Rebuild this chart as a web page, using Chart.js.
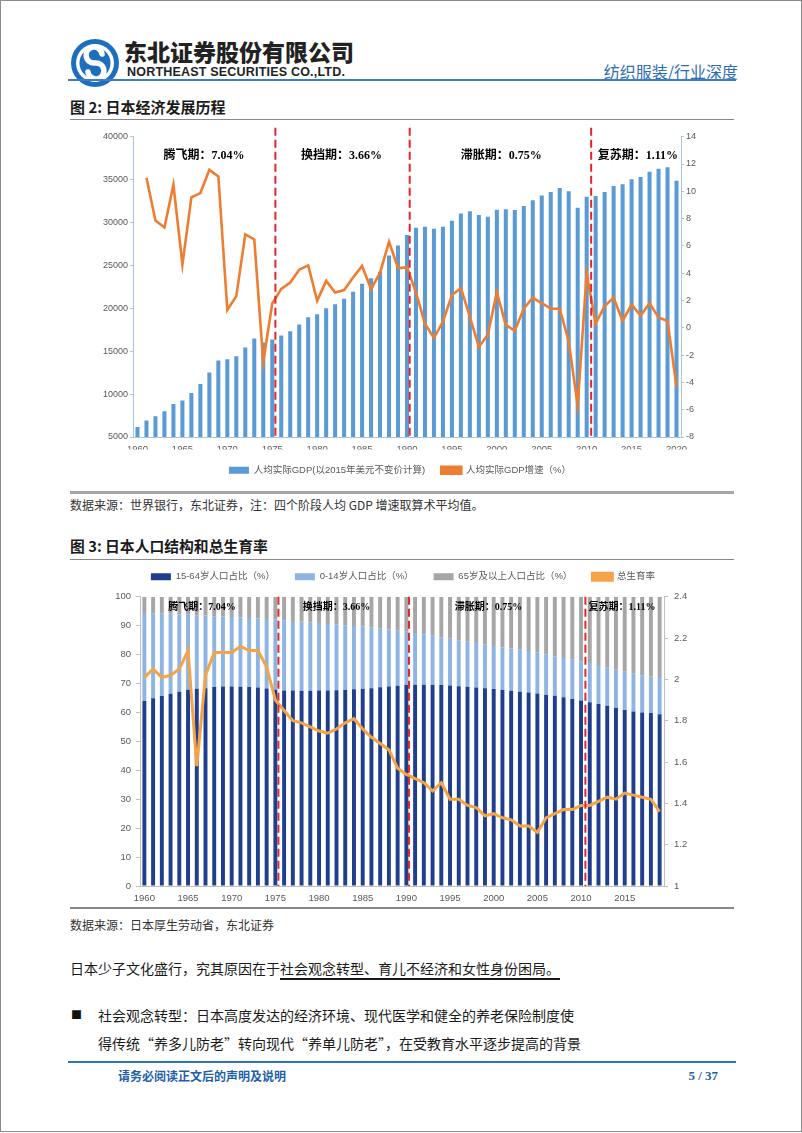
<!DOCTYPE html>
<html>
<head>
<meta charset="utf-8">
<script src="https://cdn.jsdelivr.net/npm/chart.js@4.4.0/dist/chart.umd.min.js"></script>
<style>
html,body{margin:0;padding:0;background:#fff;}
body{width:802px;height:1133px;position:relative;overflow:hidden;font-family:'Noto Sans CJK SC','Noto Sans',sans-serif;color:#1a1a1a;}
.abs{position:absolute;white-space:nowrap;line-height:1;}
.frame{position:absolute;left:0;top:0;width:800px;height:1130px;border:1px solid #8c8c8c;}
.rule{position:absolute;}
canvas{position:absolute;}
</style>
</head>
<body>
<div class="frame"></div>

<svg class="abs" style="left:70px;top:38px" width="50" height="50" viewBox="-25 -25 50 50">
  <circle cx="0" cy="0" r="24" fill="#1D6FBE"/>
  <circle cx="0" cy="0" r="19" fill="#fff"/>
  <circle cx="0" cy="0" r="15.5" fill="#1D6FBE"/>
  <path d="M 7 -9 A 8 8 0 1 0 0 0 A 8 8 0 1 1 -7 9" fill="none" stroke="#fff" stroke-width="5.5" stroke-linecap="round"/>
</svg>
<div class="abs" style="left:124px;top:40px;font-size:23px;font-weight:900;color:#222;">东北证券股份有限公司</div>
<div class="abs" style="left:127px;top:66px;font-size:12.5px;font-weight:bold;font-family:'Liberation Sans',sans-serif;color:#222;letter-spacing:0.2px;">NORTHEAST SECURITIES CO.,LTD.</div>
<div class="abs" style="right:64px;top:63px;font-size:16px;color:#2E6DB4;">纺织服装/行业深度</div>
<div class="rule" style="left:68px;top:79px;width:668px;height:2px;background:#3C7DC4;"></div>

<div class="abs" style="left:70px;top:99px;font-size:15px;font-weight:bold;">图 2: 日本经济发展历程</div>
<div class="rule" style="left:70px;top:119px;width:664px;height:1px;background:#888;"></div>

<canvas id="c1" width="660" height="360" style="left:70px;top:125px;"></canvas>

<div class="rule" style="left:70px;top:491px;width:664px;height:3px;background:#A6A6A6;"></div>
<div class="abs" style="left:70px;top:499px;font-size:12px;color:#333;">数据来源：世界银行，东北证券，注：四个阶段人均 GDP 增速取算术平均值。</div>

<div class="abs" style="left:70px;top:539px;font-size:14.8px;font-weight:bold;">图 3: 日本人口结构和总生育率</div>
<div class="rule" style="left:70px;top:559px;width:664px;height:1px;background:#888;"></div>

<canvas id="c2" width="666" height="354" style="left:70px;top:552px;"></canvas>

<div class="rule" style="left:70px;top:907px;width:664px;height:1.5px;background:#888;"></div>
<div class="abs" style="left:70px;top:919px;font-size:12px;color:#333;">数据来源：日本厚生劳动省，东北证券</div>

<div class="abs" style="left:70px;top:961px;font-size:14px;color:#1a1a1a;">日本少子文化盛行，究其原因在于<span style="text-decoration:underline;text-underline-offset:4px;text-decoration-thickness:1.5px;">社会观念转型、育儿不经济和女性身份困局。</span></div>
<div class="abs" style="left:71px;top:1009px;font-size:11px;color:#111;">■</div>
<div class="abs" style="left:98px;top:1008px;font-size:14px;color:#1a1a1a;">社会观念转型：日本高度发达的经济环境、现代医学和健全的养老保险制度使</div>
<div class="abs" style="left:98px;top:1036px;font-size:14px;color:#1a1a1a;">得传统“养多儿防老”转向现代“养单儿防老”，在受教育水平逐步提高的背景</div>

<div class="rule" style="left:68px;top:1061px;width:668px;height:1.5px;background:#2E75B6;"></div>
<div class="abs" style="left:118px;top:1070px;font-size:12px;font-weight:bold;color:#1F5FA8;">请务必阅读正文后的声明及说明</div>
<div class="abs" style="right:84px;top:1069px;font-size:13px;font-weight:bold;color:#1F5FA8;font-family:'Liberation Serif',serif;">5 / 37</div>

<script>
// ---------- Chart 1 data: Japan GDP ----------
const gdpYears = [1960,1961,1962,1963,1964,1965,1966,1967,1968,1969,1970,1971,1972,1973,1974,1975,1976,1977,1978,1979,1980,1981,1982,1983,1984,1985,1986,1987,1988,1989,1990,1991,1992,1993,1994,1995,1996,1997,1998,1999,2000,2001,2002,2003,2004,2005,2006,2007,2008,2009,2010,2011,2012,2013,2014,2015,2016,2017,2018,2019,2020];
const gdpPerCapita = [6170,6910,7410,8000,8850,9250,10130,11180,12510,13910,14070,14420,15430,16480,16010,16360,16830,17330,18110,18970,19320,20020,20480,21100,21920,22850,23510,24250,26160,27330,28530,29380,29500,29270,29500,30200,31060,31300,30870,30670,31480,31530,31450,31920,32580,33160,33550,34020,33630,31720,33000,33080,33550,34250,34450,35030,35300,35920,36270,36430,34870];
const gdpGrowth = [null,11.0,7.86,7.35,10.48,4.63,9.56,9.87,11.57,11.09,1.3,2.32,6.84,6.47,-2.5,1.78,2.85,3.32,4.26,4.58,1.98,3.44,2.59,2.76,3.68,4.53,2.83,4.04,6.3,4.38,4.43,2.6,0.3,-0.75,0.46,2.4,2.9,0.8,-1.4,-0.5,2.6,0.2,-0.2,1.4,2.2,1.8,1.4,1.4,-1.0,-5.7,4.0,0.3,1.6,2.2,0.5,1.7,0.9,1.8,0.75,0.5,-4.3];
const gdpLeftTicks = {min:5000, max:40000, step:5000};
const gdpRightTicks = {min:-8, max:14, step:2};

// ---------- Chart 2 data: population structure ----------
const popYears = [1960,1961,1962,1963,1964,1965,1966,1967,1968,1969,1970,1971,1972,1973,1974,1975,1976,1977,1978,1979,1980,1981,1982,1983,1984,1985,1986,1987,1988,1989,1990,1991,1992,1993,1994,1995,1996,1997,1998,1999,2000,2001,2002,2003,2004,2005,2006,2007,2008,2009,2010,2011,2012,2013,2014,2015,2016,2017,2018,2019];
const pop15to64 = [64.0,64.9,65.7,66.5,67.2,67.9,68.2,68.4,68.8,69.0,69.0,68.9,68.8,68.6,68.3,67.9,67.6,67.6,67.5,67.5,67.6,67.6,67.7,67.8,68.0,68.2,68.4,68.7,69.0,69.2,69.5,69.6,69.6,69.6,69.5,69.3,69.1,68.9,68.6,68.4,68.1,67.8,67.5,67.2,66.9,66.6,66.1,65.8,65.3,64.7,64.1,63.5,62.9,62.3,61.6,60.9,60.3,60.0,59.8,59.4];
const pop0to14 = [30.4,29.4,28.5,27.6,26.7,25.9,25.4,25.1,24.5,24.2,24.0,24.0,23.9,23.9,24.0,24.2,24.3,24.0,23.9,23.6,23.3,23.0,22.7,22.4,21.9,21.5,21.0,20.4,19.7,19.1,18.4,17.9,17.4,16.9,16.5,16.2,15.9,15.6,15.4,15.1,14.9,14.7,14.6,14.5,14.4,14.2,14.0,13.6,13.5,13.5,13.6,13.6,13.5,13.3,13.3,13.2,13.1,12.9,12.6,12.5];
const pop65plus = [5.6,5.7,5.8,5.9,6.1,6.2,6.4,6.5,6.7,6.8,7.0,7.1,7.3,7.5,7.7,7.9,8.1,8.4,8.6,8.9,9.1,9.4,9.6,9.8,10.1,10.3,10.6,10.9,11.3,11.7,12.1,12.5,13.0,13.5,14.0,14.5,15.0,15.5,16.0,16.5,17.0,17.5,17.9,18.3,18.7,19.2,19.9,20.6,21.2,21.8,22.3,22.9,23.6,24.4,25.1,25.9,26.6,27.1,27.6,28.1];
const fertilityRate = [2.01,2.05,2.01,2.02,2.05,2.14,1.58,2.02,2.13,2.13,2.13,2.16,2.14,2.14,2.06,1.90,1.85,1.80,1.79,1.77,1.75,1.74,1.76,1.79,1.81,1.76,1.72,1.69,1.66,1.57,1.54,1.52,1.50,1.46,1.50,1.42,1.42,1.39,1.38,1.34,1.35,1.33,1.32,1.29,1.29,1.26,1.33,1.35,1.37,1.37,1.39,1.39,1.41,1.43,1.42,1.45,1.44,1.43,1.42,1.36];
const popLeftTicks = {min:0, max:100, step:10};
const popRightTicks = {min:1, max:2.4, step:0.2};

// ---------- phase annotations ----------
const phaseBoundaries = [1975.35, 1990.3, 2010.5];
const phaseLabels = ['腾飞期：7.04%','换挡期：3.66%','滞胀期：0.75%','复苏期：1.11%'];
const phaseLabelAt1 = [1967.4, 1982.7, 2000.5, 2015.7];
const phaseLabelAt2 = [1966.6, 1982.0, 1999.4, 2014.7];

const numFont = "'Liberation Sans','Noto Sans CJK SC',sans-serif";
const lblFont = "'Liberation Sans','Noto Sans CJK SC',sans-serif";

function phasePlugin(id, labelAt, font, labelDy, extendTop){
  return {
    id: id,
    afterDatasetsDraw(chart){
      const {ctx, chartArea, scales} = chart;
      const x = scales.x;
      const first = Number(chart.data.labels[0]);
      ctx.save();
      ctx.strokeStyle = '#E3262B';
      ctx.lineWidth = 2;
      ctx.setLineDash([8,4]);
      phaseBoundaries.forEach(p => {
        const px = x.getPixelForValue(p - first);
        ctx.beginPath();
        ctx.moveTo(px, chartArea.top - extendTop);
        ctx.lineTo(px, chartArea.bottom);
        ctx.stroke();
      });
      ctx.setLineDash([]);
      ctx.fillStyle = '#000';
      ctx.font = font;
      ctx.textAlign = 'center';
      ctx.textBaseline = 'middle';
      phaseLabels.forEach((t, i) => {
        ctx.fillText(t, x.getPixelForValue(labelAt[i] - first), chartArea.top + labelDy);
      });
      ctx.restore();
    }
  };
}

const yearTick = function(v){ const y = Number(this.getLabelForValue(v)); return y % 5 === 0 ? String(y) : ''; };

// ---------- Chart 1 ----------
const ax1 = '#A9C4E4';
new Chart(document.getElementById('c1'), {
  data: {
    labels: gdpYears,
    datasets: [
      { type:'bar', label:'人均实际GDP(以2015年美元不变价计算)', data: gdpPerCapita, yAxisID:'y',
        backgroundColor:'#5B9BD5', borderWidth:0, barPercentage:0.45, categoryPercentage:1.0, order:1 },
      { type:'line', label:'人均实际GDP增速（%）', data: gdpGrowth, yAxisID:'y1',
        borderColor:'#ED7D31', backgroundColor:'#ED7D31', borderWidth:2.6, pointRadius:0, tension:0, order:0 }
    ]
  },
  options: {
    responsive:false, animation:false, devicePixelRatio:1,
    layout:{padding:{top:11.7, left:0, right:0, bottom:0}},
    plugins:{
      legend:{ position:'bottom',
        labels:{ boxWidth:20, boxHeight:7, padding:16, color:'#595959', font:{family:lblFont, size:9.5},
          sort:(a,b)=>a.datasetIndex-b.datasetIndex } },
      tooltip:{enabled:false}
    },
    scales:{
      x:{ type:'category', grid:{display:false, drawTicks:false}, border:{display:true, color:ax1},
          ticks:{ autoSkip:false, maxRotation:0, padding:6.5, color:'#595959', font:{family:numFont, size:9.5}, callback: yearTick },
          afterFit:(s)=>{ s.height = 12.5; } },
      y:{ position:'left', min:gdpLeftTicks.min, max:gdpLeftTicks.max,
          grid:{display:true, drawOnChartArea:false, drawTicks:true, tickLength:3, color:ax1}, border:{color:ax1},
          ticks:{ stepSize:gdpLeftTicks.step, padding:2, color:'#595959', font:{family:numFont, size:9}, callback:(v)=>String(v) },
          afterFit:(s)=>{ s.width = 63; } },
      y1:{ position:'right', min:gdpRightTicks.min, max:gdpRightTicks.max,
          grid:{display:true, drawOnChartArea:false, drawTicks:true, tickLength:3, color:ax1}, border:{color:ax1},
          ticks:{ stepSize:gdpRightTicks.step, padding:2, color:'#595959', font:{family:numFont, size:9}, callback:(v)=>String(v) },
          afterFit:(s)=>{ s.width = 49; } }
    }
  },
  plugins:[phasePlugin('phase1', phaseLabelAt1, "bold 12px 'Liberation Serif','Noto Sans CJK SC',serif", 19.3, 9)]
});

// ---------- Chart 2 ----------
const ax2 = '#BFBFBF';
new Chart(document.getElementById('c2'), {
  data: {
    labels: popYears,
    datasets: [
      { type:'bar', label:'15-64岁人口占比（%）', data: pop15to64, yAxisID:'y', stack:'p',
        backgroundColor:'#1F3F8E', borderWidth:0, barPercentage:0.45, categoryPercentage:1.0, order:1 },
      { type:'bar', label:'0-14岁人口占比（%）', data: pop0to14, yAxisID:'y', stack:'p',
        backgroundColor:'#8EB4E3', borderWidth:0, barPercentage:0.45, categoryPercentage:1.0, order:1 },
      { type:'bar', label:'65岁及以上人口占比（%）', data: pop65plus, yAxisID:'y', stack:'p',
        backgroundColor:'#A6A6A6', borderWidth:0, barPercentage:0.45, categoryPercentage:1.0, order:1 },
      { type:'line', label:'总生育率', data: fertilityRate, yAxisID:'y1',
        borderColor:'#F4A446', backgroundColor:'#F4A446', borderWidth:3, pointRadius:0, tension:0, order:0 }
    ]
  },
  options: {
    responsive:false, animation:false, devicePixelRatio:1,
    layout:{padding:0},
    plugins:{
      legend:{ position:'top',
        labels:{ boxWidth:20, boxHeight:7, padding:20, color:'#595959', font:{family:lblFont, size:9.5},
          sort:(a,b)=>a.datasetIndex-b.datasetIndex } },
      tooltip:{enabled:false}
    },
    scales:{
      x:{ type:'category', stacked:true, grid:{display:false, drawTicks:false}, border:{display:true, color:ax2},
          ticks:{ autoSkip:false, maxRotation:0, padding:7, color:'#595959', font:{family:numFont, size:9.5}, callback: yearTick },
          afterFit:(s)=>{ s.height = 20; } },
      xTop:{ type:'category', position:'top', display:true, grid:{display:false, drawTicks:false}, border:{display:false},
          ticks:{display:false}, afterFit:(s)=>{ s.height = 5.3; } },
      y:{ position:'left', stacked:true, min:popLeftTicks.min, max:popLeftTicks.max,
          grid:{display:true, drawOnChartArea:false, drawTicks:true, tickLength:4, color:ax2}, border:{color:ax2},
          ticks:{ stepSize:popLeftTicks.step, padding:5, color:'#595959', font:{family:numFont, size:9.5} },
          afterFit:(s)=>{ s.width = 70; } },
      y1:{ position:'right', min:popRightTicks.min, max:popRightTicks.max,
          grid:{display:true, drawOnChartArea:false, drawTicks:true, tickLength:4, color:ax2}, border:{color:ax2},
          ticks:{ stepSize:popRightTicks.step, padding:6, color:'#595959', font:{family:numFont, size:9.5},
                  callback:(v)=>String(Math.round(v*10)/10) },
          afterFit:(s)=>{ s.width = 72; } }
    }
  },
  plugins:[phasePlugin('phase2', phaseLabelAt2, "bold 10px 'Liberation Serif','Noto Sans CJK SC',serif", 11, 0)]
});
</script>
</body>
</html>
